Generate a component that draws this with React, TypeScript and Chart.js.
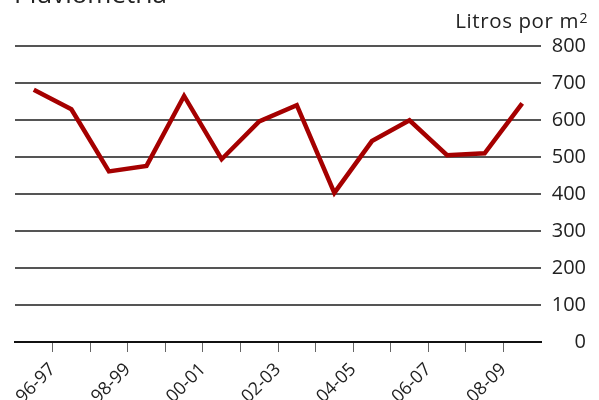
import React, { useEffect, useRef } from "react";
import { Chart, registerables } from "chart.js";

Chart.register(...registerables);

const seasons = [
  "96-97", "97-98", "98-99", "99-00", "00-01", "01-02", "02-03",
  "03-04", "04-05", "05-06", "06-07", "07-08", "08-09", "09-10",
];
const rainfall = [682, 629, 461, 476, 665, 494, 596, 640, 403, 543, 599, 505, 510, 645];
const yTicks = [0, 100, 200, 300, 400, 500, 600, 700, 800];
const titleText = "Pluviometría";
const unitText = "Litros por m";
const unitSup = "2";

const FONT = "'Open Sans', sans-serif";

const textPlugin = {
  id: "texts",
  afterDraw(chart: any) {
    const ctx = chart.ctx;
    ctx.save();
    ctx.fillStyle = "#222";
    ctx.textBaseline = "alphabetic";
    ctx.textAlign = "left";
    ctx.font = `26px ${FONT}`;
    ctx.fillText(titleText, 14, 3);
    ctx.font = `20.5px ${FONT}`;
    (ctx as any).letterSpacing = "0.6px";
    const w = ctx.measureText(unitText).width;
    ctx.fillText(unitText, 579 - w, 28);
    (ctx as any).letterSpacing = "0px";
    ctx.font = `14px ${FONT}`;
    ctx.fillText(unitSup, 579.5, 23);
    ctx.restore();
  },
};

export default function App() {
  const ref = useRef<HTMLCanvasElement>(null);
  useEffect(() => {
    if (!ref.current) return;
    const chart = new Chart(ref.current, {
      type: "line",
      data: {
        datasets: [
          {
            data: rainfall.map((v, i) => ({ x: i + 0.5, y: v })),
            borderColor: "#A50000",
            borderWidth: 4.5,
            pointRadius: 0,
            tension: 0,
            fill: false,
          },
        ],
      },
      options: {
        responsive: false,
        animation: false,
        layout: { padding: { left: 15, top: 46, right: 13, bottom: 0 } },
        plugins: { legend: { display: false }, tooltip: { enabled: false } },
        scales: {
          x: {
            type: "linear",
            min: 0,
            max: seasons.length,
            afterBuildTicks: (scale: any) => {
              scale.ticks = seasons.map((_, i) => ({ value: i })).concat([{ value: seasons.length }]);
            },
            afterFit: (scale: any) => { scale.height = 58; },
            border: { display: true, color: "#111", width: 2 },
            grid: {
              drawOnChartArea: false,
              drawTicks: true,
              tickLength: 10,
              color: (c: any) =>
                c.tick && (c.tick.value === 0 || c.tick.value === seasons.length) ? "rgba(0,0,0,0)" : "#666",
              lineWidth: 1,
            },
            ticks: {
              autoSkip: false,
              maxRotation: 45,
              minRotation: 45,
              color: "#222",
              font: { family: FONT, size: 18 },
              padding: 7,
              callback: (v: any) => {
                const k = Number(v);
                return k % 2 === 1 ? seasons[k - 1] : "";
              },
            },
          },
          y: {
            position: "right",
            min: 0,
            max: 800,
            afterBuildTicks: (scale: any) => {
              scale.ticks = yTicks.map((v) => ({ value: v }));
            },
            afterFit: (scale: any) => { scale.width = 45; },
            border: { display: false },
            grid: { drawTicks: false, color: "#555", lineWidth: 2 },
            ticks: {
              color: "#222",
              font: { family: FONT, size: 20 },
              padding: 12,
              crossAlign: "far",
            },
          },
        },
      },
      plugins: [textPlugin],
    });
    return () => chart.destroy();
  }, []);
  return (
    <canvas
      ref={ref}
      width={599}
      height={400}
      style={{ position: "fixed", left: 0, top: 0, display: "block" }}
    />
  );
}
